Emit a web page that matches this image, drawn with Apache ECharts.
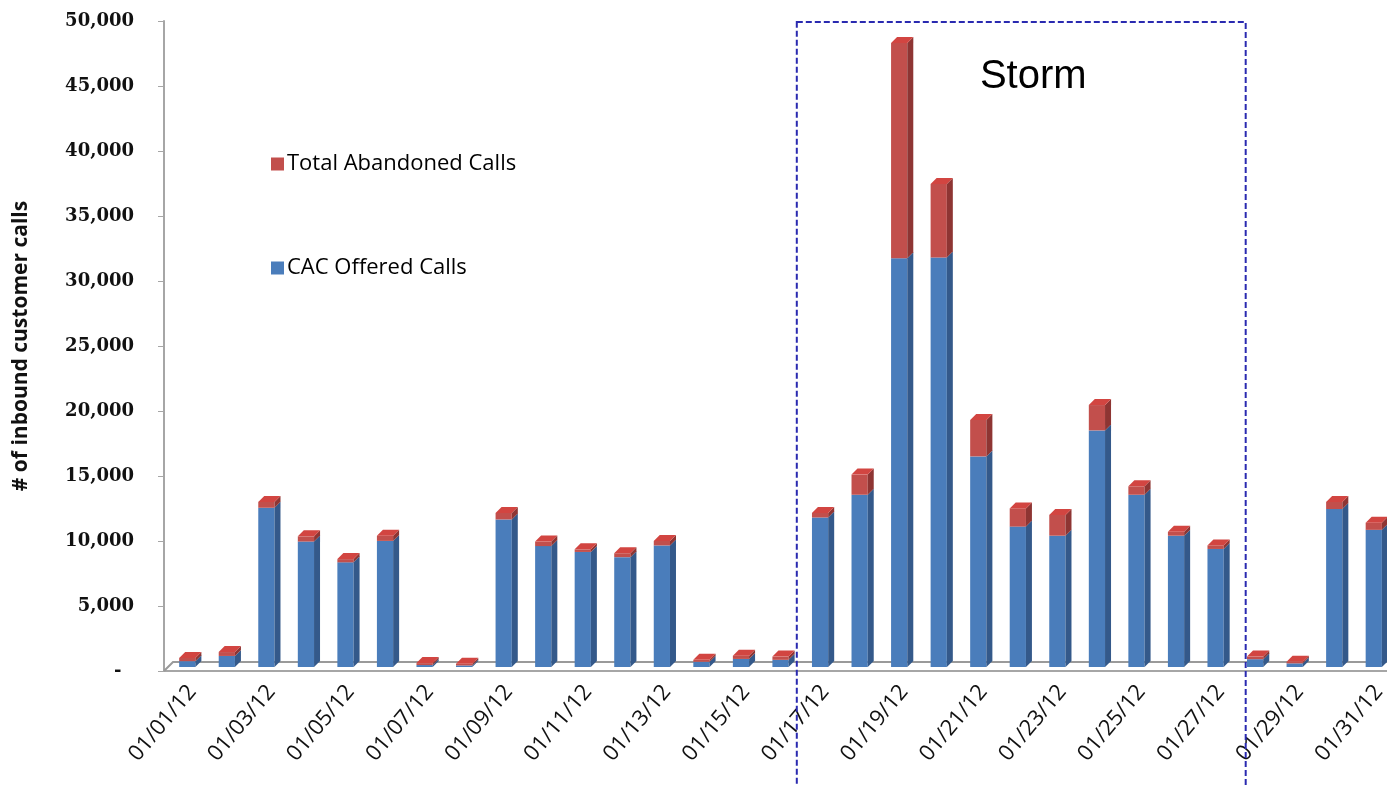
<!DOCTYPE html>
<html>
<head>
<meta charset="utf-8">
<script src="https://cdn.jsdelivr.net/npm/echarts@6/dist/echarts.min.js"></script>
<style>
  html, body { margin: 0; padding: 0; background: #ffffff; }
  #chart { width: 1387px; height: 786px; }
</style>
</head>
<body>
<div id="chart"></div>
<script>
// Daily inbound customer calls, January 2012
const categories = [
  '01/01/12', '01/02/12', '01/03/12', '01/04/12', '01/05/12', '01/06/12', '01/07/12', '01/08/12',
  '01/09/12', '01/10/12', '01/11/12', '01/12/12', '01/13/12', '01/14/12', '01/15/12', '01/16/12',
  '01/17/12', '01/18/12', '01/19/12', '01/20/12', '01/21/12', '01/22/12', '01/23/12', '01/24/12',
  '01/25/12', '01/26/12', '01/27/12', '01/28/12', '01/29/12', '01/30/12', '01/31/12'
];
const offeredCalls = [
  450, 850, 12250, 9650, 8050, 9700, 150, 120,
  11350, 9300, 8850, 8450, 9350, 400, 620, 550,
  11500, 13250, 31450, 31500, 16200, 10800, 10100, 18200,
  13250, 10100, 9080, 600, 280, 12150, 10550
];
const abandonedCalls = [
  250, 300, 450, 400, 250, 400, 150, 130,
  500, 350, 200, 300, 350, 150, 250, 250,
  350, 1550, 16550, 5650, 2800, 1400, 1600, 1950,
  650, 300, 270, 200, 120, 550, 550
];
const seriesNames = ['CAC Offered Calls', 'Total Abandoned Calls'];
const stormStart = '01/17/12';
const stormEnd = '01/27/12';
const stormLabel = 'Storm';
const yAxisTitle = '# of inbound customer calls';

const BLUE = { front: '#4a7dbb', side: '#34598a', top: '#6d98cf' };
const RED = { front: '#c24f4c', side: '#8e3533', top: '#d24541' };

const GRID_LEFT = 164;
const GRID_TOP = 21;
const GRID_BOTTOM_Y = 671;
const BAND = 39.55;

// pseudo-3D column segment: front face, right side face, optional top face
function column3d(colors, withTop) {
  return function (params, api) {
    const i = api.value(0);
    const base = api.coord([i, api.value(1)]);
    const top = api.coord([i, api.value(2)]);
    const band = api.size([1, 0])[0];
    const w = band * 0.41;
    const lift = 4, dx = 6, dy = 6;
    const L = base[0] - w / 2 + 3.5;
    const yb = base[1] - lift;
    const yt = top[1] - lift;
    const children = [
      { type: 'rect', shape: { x: L, y: yt, width: w, height: yb - yt }, style: { fill: colors.front } },
      { type: 'polygon', shape: { points: [[L + w, yt], [L + w + dx, yt - dy], [L + w + dx, yb - dy], [L + w, yb]] }, style: { fill: colors.side } }
    ];
    if (withTop) {
      children.push({ type: 'polygon', shape: { points: [[L, yt], [L + w, yt], [L + w + dx, yt - dy], [L + dx, yt - dy]] }, style: { fill: colors.top } });
    }
    return { type: 'group', children: children };
  };
}

const offeredData = categories.map((c, i) => [i, 0, offeredCalls[i]]);
const abandonedData = categories.map((c, i) => [i, offeredCalls[i], offeredCalls[i] + abandonedCalls[i]]);

const chart = echarts.init(document.getElementById('chart'), null, { renderer: 'canvas' });

chart.setOption({
  backgroundColor: '#ffffff',
  animation: false,
  grid: {
    left: GRID_LEFT, top: GRID_TOP,
    width: BAND * categories.length, height: GRID_BOTTOM_Y - GRID_TOP,
    containLabel: false, outerBoundsMode: 'none'
  },
  legend: {
    orient: 'vertical',
    left: 266,
    top: 148,
    itemGap: 82,
    itemWidth: 13,
    itemHeight: 13,
    icon: 'rect',
    data: ['Total Abandoned Calls', 'CAC Offered Calls'],
    textStyle: { fontFamily: 'Open Sans', fontSize: 22, color: '#000000', padding: [0, 0, 0, -2] }
  },
  xAxis: {
    type: 'category',
    data: categories,
    axisLine: { lineStyle: { color: '#a6a6a6', width: 2 } },
    axisTick: { interval: 1, length: 10, lineStyle: { color: '#a6a6a6', width: 1 } },
    axisLabel: {
      interval: 1,
      rotate: 50,
      margin: 10,
      verticalAlign: 'top',
      fontFamily: 'Open Sans',
      fontSize: 22,
      color: '#111111'
    },
    splitLine: { show: false }
  },
  yAxis: {
    type: 'value',
    min: 0,
    max: 50000,
    interval: 5000,
    name: yAxisTitle,
    nameLocation: 'middle',
    nameGap: 132,
    nameRotate: 90,
    nameTextStyle: { fontFamily: 'Open Sans', fontWeight: 'bold', fontSize: 21, color: '#111111' },
    axisLine: { show: true, lineStyle: { color: '#a6a6a6', width: 2 } },
    axisTick: { show: true, length: 6, lineStyle: { color: '#a6a6a6' } },
    splitLine: { show: false },
    axisLabel: {
      margin: 30,
      fontFamily: 'DejaVu Serif',
      fontWeight: 'bold',
      fontSize: 18,
      color: '#111111',
      formatter: v => v === 0 ? '-  ' : v.toLocaleString('en-US')
    }
  },
  series: [
    {
      name: seriesNames[0],
      type: 'custom',
      renderItem: column3d(BLUE, false),
      encode: { x: 0, y: [1, 2] },
      itemStyle: { color: BLUE.front },
      data: offeredData,
      z: 2
    },
    {
      name: seriesNames[1],
      type: 'custom',
      renderItem: column3d(RED, true),
      encode: { x: 0, y: [1, 2] },
      itemStyle: { color: RED.front },
      data: abandonedData,
      z: 3
    }
  ]
});

// floor outline and storm box, positioned from the axes
function drawOverlay() {
  const x0 = chart.convertToPixel({ xAxisIndex: 0 }, 0);
  const y0 = chart.convertToPixel({ yAxisIndex: 0 }, 0);
  const yMax = chart.convertToPixel({ yAxisIndex: 0 }, 50000);
  const band = BAND;
  const left = x0 - band / 2;
  const right = left + band * categories.length;
  const boxL = chart.convertToPixel({ xAxisIndex: 0 }, stormStart) - band / 2;
  const boxR = chart.convertToPixel({ xAxisIndex: 0 }, stormEnd) + band * 0.85;
  const boxT = yMax + 1;
  chart.setOption({
    graphic: [
      {
        type: 'polyline', z: 1, silent: true,
        shape: { points: [[left, y0], [left + 9, y0 - 9], [right + 10, y0 - 9]] },
        style: { stroke: '#9a9a9a', lineWidth: 2, fill: null }
      },
      {
        type: 'rect', z: 10, silent: true,
        shape: { x: boxL, y: boxT, width: boxR - boxL, height: 800 - boxT },
        style: { fill: null, stroke: '#2a2ab0', lineWidth: 2, lineDash: [6, 3] }
      },
      {
        type: 'text', z: 10, silent: true,
        x: (boxL + boxR) / 2 + 12, y: boxT + 55,
        style: {
          text: stormLabel, fontFamily: 'Liberation Sans', fontSize: 40,
          fill: '#000000', align: 'center', verticalAlign: 'middle'
        }
      }
    ]
  });
}
drawOverlay();
</script>
</body>
</html>
